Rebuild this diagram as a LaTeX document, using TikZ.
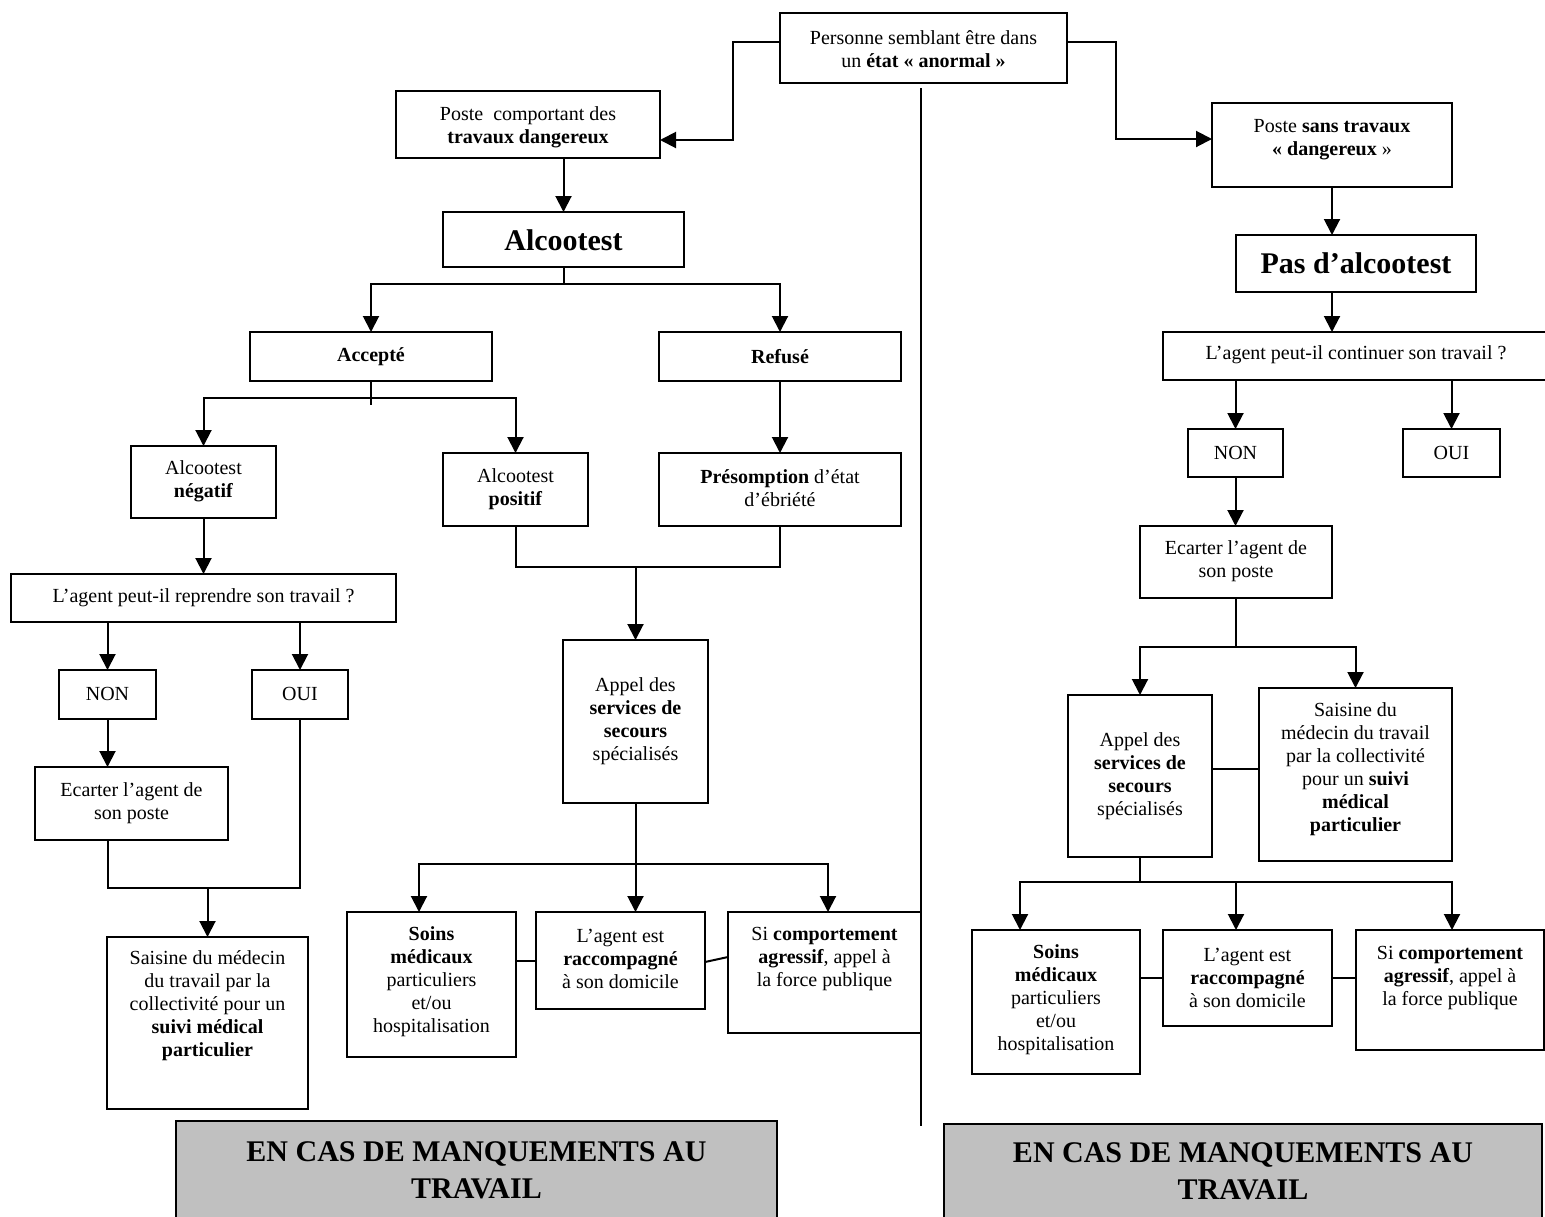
\documentclass[tikz,border=0pt]{standalone}
\usepackage{fontspec}
\setmainfont{Liberation Serif}
\usetikzlibrary{arrows.meta}
\definecolor{bannergray}{RGB}{192,192,192}
\tikzset{
  bx/.style={draw, line width=2pt, inner sep=0pt, outer sep=0pt},
  tx/.style={align=center, inner sep=0pt, font=\fontsize{20}{23}\selectfont},
  big/.style={align=center, inner sep=0pt, font=\fontsize{30}{36}\selectfont\bfseries},
  bannertx/.style={align=center, inner sep=0pt, font=\fontsize{30}{37}\selectfont\bfseries},
  banner/.style={draw, line width=2pt, fill=bannergray, inner sep=0pt, outer sep=0pt},
  ln/.style={line width=2pt},
  arr/.style={line width=2pt, -{Triangle[length=16pt,width=16pt]}},
}
% name, x1, y1, x2, y2, text centre y, text
\newcommand\mkbox[8][tx]{%
  \node[bx, minimum width={#5-#3}, minimum height={#6-#4}] (#2) at ({(#3+#5)/2},{(#4+#6)/2}) {};
  \node[#1] (#2-t) at ({(#3+#5)/2},#7) {#8};}
\begin{document}
\begin{tikzpicture}[x=1pt,y=-1pt]
\useasboundingbox (0,0) rectangle (1545,1216);
% ---------- top ----------
\mkbox{pers}{780}{13}{1067}{83}{49}{Personne semblant être dans\\un \textbf{état « anormal »}}
\mkbox{pl}{396}{91}{660}{158}{127}{Poste\ \ comportant des\\\textbf{travaux dangereux}}
\mkbox{pr}{1212}{103}{1452}{187}{140}{Poste \textbf{sans travaux}\\\textbf{« dangereux} »}
\coordinate (d1) at (921,88);
\coordinate (d2) at (921,1126);
\draw[ln] (d1) -- (d2);
\draw[arr] ([yshift=6pt]pers.west) -- ++(-47,0) |- ([yshift=-15.5pt]pl.east);
\draw[arr] ([yshift=6pt]pers.east) -- ++(49,0) |- ([yshift=6pt]pr.west);
% ---------- left half ----------
\mkbox[big]{alc}{443}{212}{684}{267}{240}{Alcootest}
\mkbox{acc}{250}{332}{492}{381}{357}{\textbf{Accepté}}
\mkbox{ref}{659}{332}{901}{381}{357}{\textbf{Refusé}}
\mkbox{neg}{131}{446}{276}{518}{481}{Alcootest\\\textbf{négatif}}
\mkbox{pos}{443}{453}{588}{526}{489}{Alcootest\\\textbf{positif}}
\mkbox{pres}{659}{453}{901}{526}{488}{\textbf{Présomption} d’état\\d’ébriété}
\mkbox{app}{563}{640}{708}{803}{721}{Appel des\\\textbf{services de}\\\textbf{secours}\\spécialisés}
\mkbox{soinsL}{347}{912}{516}{1057}{982}{\textbf{Soins}\\\textbf{médicaux}\\particuliers\\et/ou\\hospitalisation}
\mkbox{agL}{536}{912}{705}{1009}{959}{L’agent est\\\textbf{raccompagné}\\à son domicile}
\mkbox{siL}{728}{912}{921}{1033}{959}{Si \textbf{comportement}\\\textbf{agressif}, appel à\\la force publique}
\mkbox{qL}{11}{574}{396}{622}{598}{L’agent peut-il reprendre son travail ?}
\mkbox{nonL}{59}{670}{156}{719}{694}{NON}
\mkbox{ouiL}{252}{670}{348}{719}{694}{OUI}
\mkbox{ecL}{35}{767}{228}{840}{803}{Ecarter l’agent de\\son poste}
\mkbox{saisL}{107}{937}{308}{1109}{1006}{Saisine du médecin\\du travail par la\\collectivité pour un\\\textbf{suivi médical}\\\textbf{particulier}}
\draw[arr] (alc.north |- pl.south) -- (alc.north);
\draw[ln] (alc.south) -- ++(0,17) coordinate (ja);
\draw[arr] (ja) -| (acc.north);
\draw[arr] (ja) -| (ref.north);
\draw[ln] (acc.south) -- ++(0,24);
\coordinate (jb) at ([yshift=-17pt]acc.south);
\draw[arr] (jb) -| (neg.north);
\draw[arr] (jb) -| (pos.north);
\draw[arr] (ref.south) -- (pres.north);
\draw[ln] (pos.south) -- ++(0,41) coordinate (jc) -- (jc -| pres.south) -- (pres.south);
\draw[arr] (jc -| app.north) -- (app.north);
\draw[ln] (app.south) -- ++(0,61) coordinate (jd);
\draw[arr] (jd) -| ([xshift=-12.5pt]soinsL.north);
\draw[arr] (jd) -- (jd |- agL.north);
\draw[arr] (jd) -| ([xshift=3.5pt]siL.north);
\draw[ln] (agL.west -| soinsL.east) -- (agL.west);
\draw[ln] ([yshift=-1.5pt]agL.east) -- ([yshift=3.5pt]siL.west |- agL.east);
\draw[arr] (neg.south) -- (neg.south |- qL.north);
\draw[arr] (nonL.north |- qL.south) -- (nonL.north);
\draw[arr] (ouiL.north |- qL.south) -- (ouiL.north);
\draw[arr] (nonL.south) -- (nonL.south |- ecL.north);
\draw[ln] (nonL.south |- ecL.south) -- ++(0,48) coordinate (je) -- (je -| ouiL.south) -- (ouiL.south);
\draw[arr] (je -| saisL.north) -- (saisL.north);
% ---------- right half ----------
\mkbox[big]{pas}{1236}{235}{1476}{292}{263}{Pas d’alcootest}
\mkbox{qR}{1163}{332}{1549}{380}{355}{L’agent peut-il continuer son travail ?}
\mkbox{nonR}{1188}{429}{1283}{477}{453}{NON}
\mkbox{ouiR}{1403}{429}{1500}{477}{453}{OUI}
\mkbox{ecR}{1140}{526}{1332}{598}{561}{Ecarter l’agent de\\son poste}
\mkbox{appR}{1068}{695}{1212}{857}{776}{Appel des\\\textbf{services de}\\\textbf{secours}\\spécialisés}
\mkbox{saisR}{1259}{688}{1452}{861}{769}{Saisine du\\médecin du travail\\par la collectivité\\pour un \textbf{suivi}\\\textbf{médical}\\\textbf{particulier}}
\mkbox{soinsR}{972}{930}{1140}{1074}{1000}{\textbf{Soins}\\\textbf{médicaux}\\particuliers\\et/ou\\hospitalisation}
\mkbox{agR}{1163}{930}{1332}{1026}{978}{L’agent est\\\textbf{raccompagné}\\à son domicile}
\mkbox{siR}{1356}{930}{1544}{1050}{978}{Si \textbf{comportement}\\\textbf{agressif}, appel à\\la force publique}
\draw[arr] (pr.south) -- (pr.south |- pas.north);
\draw[arr] (pr.south |- pas.south) -- (pr.south |- qR.north);
\draw[arr] (nonR.north |- qR.south) -- (nonR.north);
\draw[arr] (ouiR.north |- qR.south) -- (ouiR.north);
\draw[arr] (nonR.south) -- (nonR.south |- ecR.north);
\draw[ln] (ecR.south) -- ++(0,49) coordinate (jf);
\draw[arr] (jf) -| (appR.north);
\draw[arr] (jf) -| (saisR.north);
\draw[ln] ([yshift=5.5pt]saisR.west -| appR.east) -- ([yshift=5.5pt]saisR.west);
\draw[ln] (appR.south) -- ++(0,25) coordinate (jg);
\draw[arr] (jg) -| ([xshift=-36pt]soinsR.north);
\draw[arr] (jg) -| ([xshift=-11.5pt]agR.north);
\draw[arr] (jg) -| ([xshift=2pt]siR.north);
\draw[ln] (agR.west -| soinsR.east) -- (agR.west);
\draw[ln] (agR.east) -- (agR.east -| siR.west);
% ---------- banners ----------
\node[banner, minimum width=601, minimum height=120] (banL) at (476.5,1181) {};
\node[bannertx] (banL-t) at (476.5,1170) {EN CAS DE MANQUEMENTS AU\\TRAVAIL};
\node[banner, minimum width=598, minimum height=120] (banR) at (1243,1184) {};
\node[bannertx] (banR-t) at (1243,1171) {EN CAS DE MANQUEMENTS AU\\TRAVAIL};
\end{tikzpicture}
\end{document}
